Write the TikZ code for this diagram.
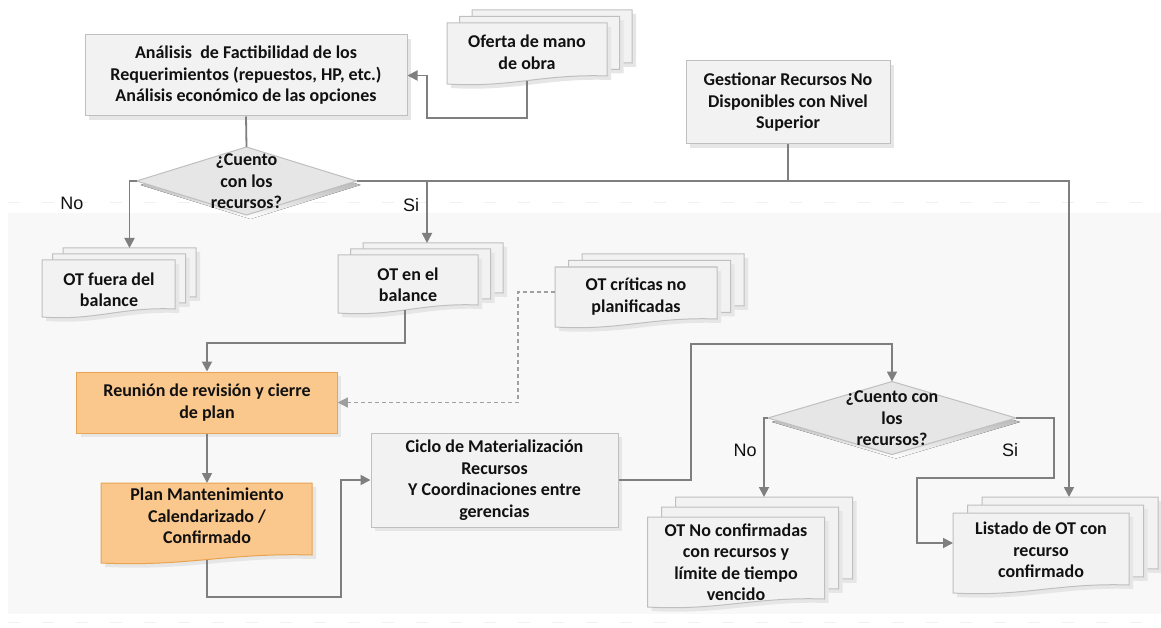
\documentclass[tikz,border=0pt]{standalone}
\usepackage{fontspec}
\setmainfont{Carlito}
\newfontfamily\lblfont{Liberation Sans}
\usetikzlibrary{arrows.meta,calc,shadows}

\definecolor{boxfill}{HTML}{F2F2F2}
\definecolor{boxline}{HTML}{BFBFBF}
\definecolor{difill}{HTML}{E6E6E6}
\definecolor{orfill}{HTML}{FAC78C}
\definecolor{orline}{HTML}{E9A452}
\definecolor{conn}{HTML}{7F7F7F}
\definecolor{shade}{HTML}{E6E6E6}
\definecolor{bggray}{HTML}{F8F8F8}
\definecolor{bgdash}{HTML}{F1F1F1}
\definecolor{txt}{HTML}{111111}

\tikzset{
  lbl/.style={text=txt, font=\lblfont\fontsize{18}{21}\selectfont, inner sep=0pt},
  txtnode/.style={text=txt, align=center, font=\bfseries\fontsize{18}{21.5}\selectfont, inner sep=0pt},
  boxshadow/.style={drop shadow={shadow xshift=4pt, shadow yshift=-4pt, fill=shade, opacity=1}},
  procbox/.style={txtnode, draw=boxline, fill=boxfill, line width=1pt, boxshadow},
  planbox/.style={procbox, draw=orline, fill=orfill},
  page/.style={draw=boxline, fill=boxfill, line width=1pt},
  orpage/.style={draw=orline, fill=orfill, line width=1pt},
  decision/.style={draw=boxline, fill=difill, line width=1pt},
  plain/.style={draw=conn, line width=1.8pt},
  link/.style={plain, -{Triangle[length=10pt,width=10pt]}},
  dlink/.style={draw=conn!75, line width=1.2pt, dash pattern=on 4pt off 3pt,
                -{Triangle[length=10pt,width=10pt]}},
}

% one page of a document symbol: style, left x, top y, right x, bottom-left y
\newcommand\docpage[5]{%
  \pgfmathsetmacro\dxa{#2}\pgfmathsetmacro\dya{#3}%
  \pgfmathsetmacro\dxb{#4}\pgfmathsetmacro\dyb{#5}%
  \pgfmathsetmacro\dcA{\dxa+0.6*(\dxb-\dxa)}\pgfmathsetmacro\dcB{\dxa+0.4*(\dxb-\dxa)}%
  \path[fill=shade] ({\dxa+4},{\dya+4}) -- ({\dxb+4},{\dya+4}) -- ({\dxb+4},{\dyb-4})
     .. controls ({\dcA+4},{\dyb-6.4}) and ({\dcB+4},{\dyb+8}) .. ({\dxa+4},{\dyb+4}) -- cycle;
  \path[#1] (\dxa,\dya) -- (\dxb,\dya) -- (\dxb,{\dyb-8})
     .. controls (\dcA,{\dyb-10.4}) and (\dcB,{\dyb+4}) .. (\dxa,\dyb) -- cycle;
}
% a stack of three pages: style, front page box, page offset dx, dy
\newcommand\docstack[7]{%
  \docpage{#1}{#2+2*#6}{#3-2*#7}{#4+2*#6}{#5-2*#7}%
  \docpage{#1}{#2+#6}{#3-#7}{#4+#6}{#5-#7}%
  \docpage{#1}{#2}{#3}{#4}{#5}%
}

\begin{document}
\begin{tikzpicture}[x=1pt,y=-1pt]
\useasboundingbox (0,0) rectangle (1161,628);

% lower band
\fill[bggray] (8,213) rectangle (1161,614);
\draw[bgdash, line width=1pt, dash pattern=on 12pt off 22pt] (8,203) -- (1161,203);
\draw[bgdash, line width=1pt, dash pattern=on 12pt off 22pt] (8,622) -- (1161,622);

% ---------- upper part ----------
\node[procbox, minimum width=322pt, minimum height=81pt] (anal) at (246,75.5)
  {Análisis\ \ de Factibilidad de los\\Requerimientos (repuestos, HP, etc.)\\Análisis económico de las opciones};

\docstack{page}{447}{23}{607}{84}{12.5}{6.5}
\node[txtnode] (oferta) at (527,52.5) {Oferta de mano\\de obra};
\coordinate (oferta-out) at (527,80.6);

\node[procbox, minimum width=204pt, minimum height=83pt] (gest) at (788,102.5)
  {Gestionar Recursos No\\Disponibles con Nivel\\Superior};

% first decision
\coordinate (d1w) at (136.5,181);
\coordinate (d1n) at (246.5,147);
\coordinate (d1e) at (356.5,181);
\coordinate (d1s) at (246.5,215);
\fill[shade] ($(d1w)+(4,4)$) -- ($(d1n)+(4,4)$) -- ($(d1e)+(4,4)$) -- ($(d1s)+(4,4)$) -- cycle;
\path[decision] (d1w) -- (d1n) -- (d1e) -- (d1s) -- cycle;
\node[txtnode] (cuento1) at (246.5,181.5) {¿Cuento\\con los\\recursos?};

% ---------- lower part ----------
\docstack{page}{42}{260}{175}{317}{10.5}{6}
\node[txtnode] (fuera) at (109,290) {OT fuera del\\balance};
\coordinate (fuera-in) at (129.5,248);

\docstack{page}{338}{255}{478}{313}{12.5}{6}
\node[txtnode] (bal) at (408,285) {OT en el\\balance};
\coordinate (bal-in) at (427,243);
\coordinate (bal-out) at (405,310);

\docstack{page}{555}{267}{717}{327}{13.5}{6.5}
\node[txtnode] (crit) at (636,296.5) {OT críticas no\\planificadas};
\coordinate (crit-w) at (555,292);

\node[planbox, minimum width=260.5pt, minimum height=61pt] (reun) at (207,402.5)
  {Reunión de revisión y cierre\\de plan};

\docpage{orpage}{101}{483}{312}{563}
\node[txtnode] (plan) at (207,516) {Plan Mantenimiento\\Calendarizado /\\Confirmado};
\coordinate (plan-in) at (207,483);
\coordinate (plan-out) at (207,559.6);

\node[procbox, minimum width=247pt, minimum height=94pt] (ciclo) at (494.5,480)
  {Ciclo de Materialización\\Recursos\\Y Coordinaciones entre\\gerencias};

% second decision
\coordinate (d2w) at (768,418);
\coordinate (d2n) at (892,381.5);
\coordinate (d2e) at (1016,418);
\coordinate (d2s) at (892,454.5);
\fill[shade] ($(d2w)+(4,4)$) -- ($(d2n)+(4,4)$) -- ($(d2e)+(4,4)$) -- ($(d2s)+(4,4)$) -- cycle;
\path[decision] (d2w) -- (d2n) -- (d2e) -- (d2s) -- cycle;
\node[txtnode] (cuento2) at (892,418.5) {¿Cuento con\\los\\recursos?};

\docstack{page}{647.5}{517}{824.5}{607}{14}{10}
\node[txtnode] (noconf) at (736,562) {OT No confirmadas\\con recursos y\\límite de tiempo\\vencido};
\coordinate (noconf-in) at (764,497);

\docstack{page}{953}{513}{1129}{593}{14.5}{8}
\node[txtnode] (listado) at (1041,550) {Listado de OT con\\recurso\\confirmado};
\coordinate (list-in) at (1069,497);
\coordinate (list-w) at (953,543);

% ---------- connectors ----------
\draw[plain] (anal.south) -- (d1n);
\draw[link] (oferta-out) |- (427,118) |- (anal.east);
\draw[link] (d1w) -| (fuera-in);
\draw[link] (d1e) -| (list-in);
\draw[link] (d1e -| bal-in) -- (bal-in);
\draw[plain] (gest.south) -- (gest.south |- d1e);
\draw[link] (bal-out) |- (207,343) -- (reun.north);
\draw[dlink] (crit-w) -- (518,292) |- (reun.east);
\draw[link] (reun.south) -- (plan-in);
\draw[link] (plan-out) |- (341,597) |- (ciclo.west);
\draw[link] (ciclo.east) -| (691,344) -| (d2n);
\draw[link] (d2w) -| (noconf-in);
\draw[link] (d2e) -| (1054,478) -- (917,478) |- (list-w);

% branch labels
\node[lbl] (no1) at (72,203) {No};
\node[lbl] (si1) at (411,205) {Si};
\node[lbl] (no2) at (745,450) {No};
\node[lbl] (si2) at (1010,450) {Si};
\end{tikzpicture}
\end{document}
